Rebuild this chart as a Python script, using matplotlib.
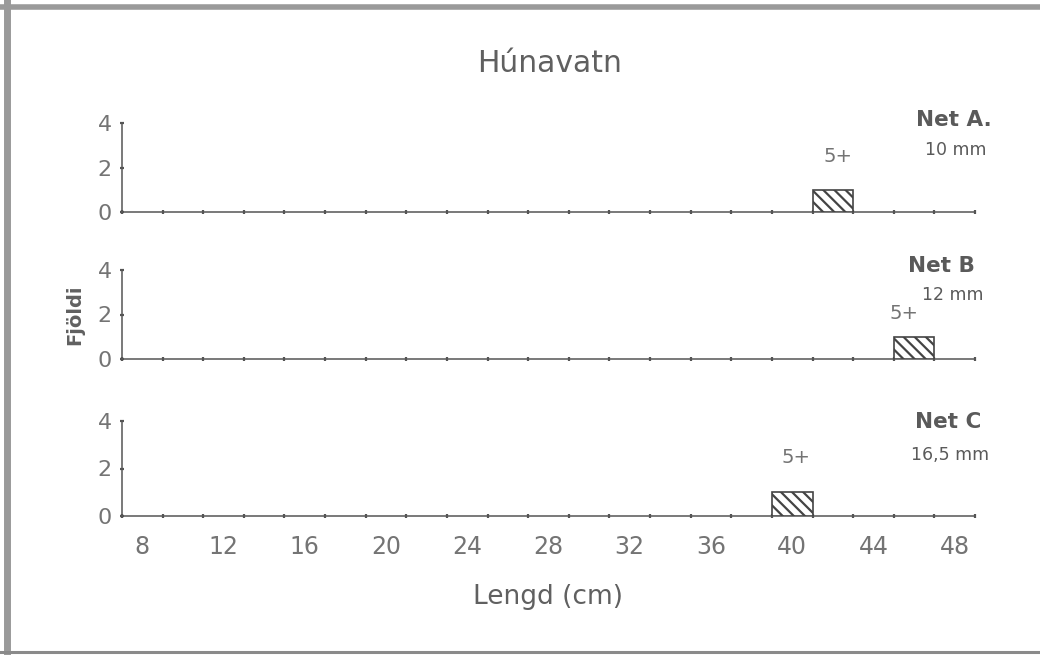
import matplotlib
matplotlib.use("Agg")
import matplotlib.pyplot as plt
from matplotlib.lines import Line2D
import numpy as np

# ---- data ----
bin_edges = list(range(7, 50, 2))          # 7, 9, ..., 49
x_labels = list(range(8, 49, 4))           # 8, 12, ..., 48
nets = ["Net A.", "Net B", "Net C"]
mesh = ["10 mm", "12 mm", "16,5 mm"]
bar_centers = [42, 46, 40]
bar_counts = [1, 1, 1]
bar_labels = ["5+", "5+", "5+"]
y_ticks = [0, 2, 4]

plt.rcParams['font.family'] = ['DejaVu Sans']
plt.rcParams['hatch.linewidth'] = 1.6
plt.rcParams['hatch.color'] = '#444444'

W, H = 1040, 655
fig = plt.figure(figsize=(W / 100, H / 100), dpi=100)
fig.patch.set_facecolor('white')

def fx(px):
    return px / W

def fy(py):
    return 1 - py / H

left, right = 122, 975
panels = [(123, 212), (270, 359), (421, 516)]
net_pos = [((0.975, 1.03), (0.978, 0.70)),
           ((0.961, 1.04), (0.974, 0.72)),
           ((0.968, 0.99), (0.971, 0.64))]
lbl_off = [(4, 17), (-7, 10), (3, 18)]

axcol = '#555555'
txtcol = '#747474'
for i, (top, bot) in enumerate(panels):
    ax = fig.add_axes([fx(left), fy(bot), fx(right) - fx(left), (bot - top) / H])
    ax.set_xlim(bin_edges[0], bin_edges[-1])
    ax.set_ylim(0, 4)
    for s in ['top', 'right']:
        ax.spines[s].set_visible(False)
    for s in ['left', 'bottom']:
        ax.spines[s].set_color(axcol)
        ax.spines[s].set_linewidth(1.1)
    ax.set_xticks(bin_edges)
    ax.set_xticklabels([])
    ax.tick_params(axis='x', which='major', direction='inout', length=3, width=1.6, color=axcol)
    ax.set_xticks(x_labels, minor=True)
    if i == 2:
        ax.set_xticklabels([str(v) for v in x_labels], minor=True)
    ax.tick_params(axis='x', which='minor', length=0, pad=14, labelsize=17, labelcolor=txtcol)
    ax.set_yticks(y_ticks)
    ax.set_yticklabels([str(v) for v in y_ticks])
    ax.tick_params(axis='y', direction='inout', length=3, width=1.6, color=axcol,
                   pad=6, labelsize=16, labelcolor=txtcol)
    ax.bar([bar_centers[i]], [bar_counts[i]], width=2, facecolor='white',
           edgecolor='#444444', linewidth=1.2, hatch='\\\\\\', zorder=3)
    ax.annotate(bar_labels[i], (bar_centers[i], bar_counts[i]),
                xytext=lbl_off[i], textcoords='offset points',
                ha='center', va='bottom', fontsize=14, color=txtcol)
    ax.text(*net_pos[i][0], nets[i], transform=ax.transAxes, ha='center', va='center',
            fontsize=15.5, fontweight='bold', color='#5a5a5a')
    ax.text(*net_pos[i][1], mesh[i], transform=ax.transAxes, ha='center', va='center',
            fontsize=12.5, color='#5a5a5a')
    ax.patch.set_alpha(0)

fig.text(fx(550), fy(63), "Húnavatn", ha='center', va='center', fontsize=21.5, color='#606060')
fig.text(fx(548), fy(597), "Lengd (cm)", ha='center', va='center', fontsize=19, color='#606060')
fig.text(fx(75), fy(315), "Fjöldi", ha='center', va='center', rotation=90,
         fontsize=14, fontweight='bold', color='#606060')

# scanned frame
fig.add_artist(Line2D([0, 1], [fy(6.5), fy(6.5)], transform=fig.transFigure,
                      color='#9a9a9a', linewidth=4))
fig.add_artist(Line2D([fx(7), fx(7)], [0, 1], transform=fig.transFigure,
                      color='#9a9a9a', linewidth=5))
fig.add_artist(Line2D([0, 1], [fy(652), fy(652)], transform=fig.transFigure,
                      color='#8a8a8a', linewidth=2.2))

fig.savefig("out.png", dpi=100, facecolor='white')
